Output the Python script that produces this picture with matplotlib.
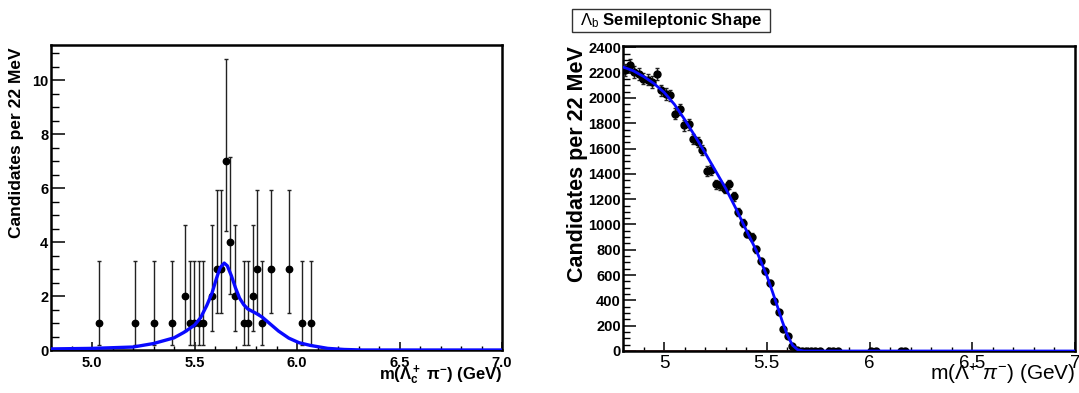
import matplotlib
matplotlib.use("Agg")
import matplotlib.pyplot as plt
from matplotlib.ticker import MultipleLocator, FixedLocator
from matplotlib.patches import Rectangle

plt.rcParams['font.family'] = ['Liberation Sans', 'DejaVu Sans']
plt.rcParams['mathtext.fontset'] = 'custom'
plt.rcParams['mathtext.rm'] = 'Liberation Sans'
plt.rcParams['mathtext.it'] = 'Liberation Sans:italic'
plt.rcParams['mathtext.bf'] = 'Liberation Sans:bold'

# ---------------- Left panel data ----------------
left_x = [5.036, 5.212, 5.300, 5.388, 5.454, 5.476, 5.498, 5.520, 5.542,
          5.586, 5.608, 5.630, 5.652, 5.674, 5.696, 5.740, 5.762, 5.784,
          5.806, 5.828, 5.872, 5.960, 6.026, 6.070]
left_y = [1, 1, 1, 1, 2, 1, 1, 1, 1, 2, 3, 3, 7, 4, 2, 1, 1, 2, 3, 1, 3, 3, 1, 1]
left_lo = [0.17, 0.17, 0.17, 0.17, 0.71, 0.17, 0.17, 0.17, 0.17, 0.71, 1.37, 1.37,
           4.42, 2.09, 0.71, 0.17, 0.17, 0.71, 1.37, 0.17, 1.37, 1.37, 0.17, 0.17]
left_hi = [3.30, 3.30, 3.30, 3.30, 4.64, 3.30, 3.30, 3.30, 3.30, 4.64, 5.92, 5.92,
           10.77, 7.16, 4.64, 3.30, 3.30, 4.64, 5.92, 3.30, 5.92, 5.92, 3.30, 3.30]

left_fit_x = [4.80, 5.00, 5.20, 5.30, 5.40, 5.45, 5.50, 5.53, 5.56, 5.585, 5.607,
              5.625, 5.645, 5.66, 5.68, 5.70, 5.72, 5.74, 5.76, 5.80, 5.83, 5.87,
              5.91, 5.96, 6.01, 6.065, 6.15, 6.23, 6.32, 7.00]
left_fit_y = [0.04, 0.06, 0.11, 0.24, 0.45, 0.66, 0.92, 1.20, 1.65, 2.10, 2.65,
              3.05, 3.22, 3.12, 2.75, 2.30, 1.92, 1.68, 1.52, 1.36, 1.22, 0.96,
              0.70, 0.44, 0.27, 0.17, 0.06, 0.02, 0.00, 0.00]

left_xticks = [5.0, 5.5, 6.0, 6.5, 7.0]
left_xticklabels = ["5.0", "5.5", "6.0", "6.5", "7.0"]
left_yticks = [0, 2, 4, 6, 8, 10]

# ---------------- Right panel data ----------------
right_x = [4.811, 4.833, 4.855, 4.877, 4.899, 4.921, 4.943, 4.965, 4.987, 5.009,
           5.031, 5.053, 5.075, 5.097, 5.119, 5.141, 5.163, 5.185, 5.207, 5.229,
           5.251, 5.273, 5.295, 5.317, 5.339, 5.361, 5.383, 5.405, 5.427, 5.449,
           5.471, 5.493, 5.515, 5.537, 5.559, 5.581, 5.603, 5.625, 5.647, 5.669,
           5.691, 5.713, 5.735, 5.757, 5.801, 5.823, 5.845, 6.009, 6.031, 6.153,
           6.175]
right_y = [2224, 2258, 2205, 2192, 2153, 2145, 2127, 2192, 2060, 2033,
           2020, 1876, 1910, 1784, 1792, 1674, 1653, 1587, 1421, 1429,
           1318, 1310, 1283, 1318, 1224, 1100, 1012, 928, 902, 804,
           712, 630, 538, 395, 308, 176, 118, 37, 11, 3,
           2, 2, 2, 2, 1, 1, 1, 1, 1, 1,
           1]
right_err = [47, 48, 47, 47, 46, 46, 46, 47, 45, 45,
             45, 43, 44, 42, 42, 41, 41, 40, 38, 38,
             36, 36, 36, 36, 35, 33, 32, 30, 30, 28,
             27, 25, 23, 20, 18, 13, 11, 6, 3, 2,
             1, 1, 1, 1, 1, 1, 1, 1, 1, 1,
             1]

right_fit_x = [4.80, 4.85, 4.90, 4.95, 5.00, 5.05, 5.10, 5.15, 5.20, 5.25,
               5.30, 5.35, 5.40, 5.45, 5.50, 5.525, 5.55, 5.575, 5.60, 5.625,
               5.65, 5.68, 7.00]
right_fit_y = [2245, 2215, 2170, 2115, 2045, 1950, 1830, 1700, 1565, 1425,
               1285, 1125, 955, 790, 595, 480, 360, 235, 125, 45,
               10, 0, 0]
right_bkg_x = [4.80, 7.00]
right_bkg_y = [0, 0]

right_xticks = [5.0, 5.5, 6.0, 6.5, 7.0]
right_xticklabels = ["5", "5.5", "6", "6.5", "7"]
right_yticks = [0, 200, 400, 600, 800, 1000, 1200, 1400, 1600, 1800, 2000, 2200, 2400]

W, H = 1079, 393
fig = plt.figure(figsize=(W / 100, H / 100), dpi=100)

def frac_axes(x0, y0, x1, y1):
    return fig.add_axes([x0 / W, 1 - y1 / H, (x1 - x0) / W, (y1 - y0) / H])

# ---------------- Left ----------------
ax1 = frac_axes(51, 45, 502, 350)
ax1.errorbar(left_x, left_y,
             yerr=[[y - lo for y, lo in zip(left_y, left_lo)],
                   [hi - y for y, hi in zip(left_y, left_hi)]],
             fmt='o', color='black', ecolor='#222222', elinewidth=1.0,
             capsize=1.6, capthick=1.0, markersize=4.6, zorder=3)
ax1.plot(left_fit_x, left_fit_y, color='#0a0aff', lw=2.4, zorder=4)
ax1.set_xlim(4.8, 7.0)
ax1.set_ylim(0, 11.3)
ax1.xaxis.set_major_locator(FixedLocator(left_xticks))
ax1.set_xticklabels(left_xticklabels, fontweight='bold', fontsize=10.5)
ax1.xaxis.set_minor_locator(MultipleLocator(0.1))
ax1.yaxis.set_major_locator(FixedLocator(left_yticks))
ax1.yaxis.set_minor_locator(MultipleLocator(0.5))
for lab in ax1.get_yticklabels():
    lab.set_fontweight('bold')
    lab.set_fontsize(10.5)
ax1.tick_params(axis='x', which='major', direction='in', length=6, width=1.1, pad=4)
ax1.tick_params(axis='x', which='minor', direction='in', length=3.2, width=1.0)
ax1.tick_params(axis='y', which='major', direction='in', length=10, width=1.1, pad=2)
ax1.tick_params(axis='y', which='minor', direction='in', length=5.5, width=1.0)
ax1.tick_params(top=False, right=False, which='both')
for s in ax1.spines.values():
    s.set_linewidth(1.8)
fig.text(502 / W, 1 - 375 / H, r'm($\mathbf{\Lambda_c^+}\ \mathbf{\pi^{-}}$) (GeV)',
         ha='right', va='center', fontsize=12, fontweight='bold')
fig.text(17 / W, 1 - 47 / H, 'Candidates per 22 MeV', rotation=90,
         ha='center', va='top', fontsize=12.5, fontweight='bold')

# ---------------- Right ----------------
ax2 = frac_axes(623, 46, 1075, 351)
ax2.plot(right_bkg_x, right_bkg_y, color='#a04a4a', lw=1.2, zorder=2)
ax2.errorbar(right_x, right_y, yerr=right_err,
             fmt='o', color='black', ecolor='#222222', elinewidth=1.0,
             capsize=1.6, capthick=1.0, markersize=5.0, zorder=3)
ax2.plot(right_fit_x, right_fit_y, color='#0a0aff', lw=2.0, zorder=4)
ax2.set_xlim(4.8, 7.0)
ax2.set_ylim(0, 2411)
ax2.xaxis.set_major_locator(FixedLocator(right_xticks))
ax2.set_xticklabels(right_xticklabels, fontsize=13.5)
ax2.xaxis.set_minor_locator(MultipleLocator(0.1))
ax2.yaxis.set_major_locator(FixedLocator(right_yticks))
ax2.yaxis.set_minor_locator(MultipleLocator(50))
for lab in ax2.get_yticklabels():
    lab.set_fontweight('bold')
    lab.set_fontsize(10.5)
ax2.tick_params(axis='x', which='major', direction='in', length=6.5, width=1.1, pad=3)
ax2.tick_params(axis='x', which='minor', direction='in', length=3.2, width=1.0)
ax2.tick_params(axis='y', which='major', direction='in', length=9.5, width=1.1, pad=1.5)
ax2.tick_params(axis='y', which='minor', direction='in', length=5, width=1.0)
ax2.tick_params(top=False, right=False, which='both')
for s in ax2.spines.values():
    s.set_linewidth(1.8)
fig.text(1075 / W, 1 - 374 / H, r'm($\Lambda^{+}\;\pi^{-}$) (GeV)',
         ha='right', va='center', fontsize=15)
fig.text(577 / W, 1 - 46 / H, 'Candidates per 22 MeV', rotation=90,
         ha='center', va='top', fontsize=15.5, fontweight='bold')

# Title box
fig.patches.append(Rectangle((572 / W, 1 - 32 / H), (770 - 572) / W, (32 - 9) / H,
                             transform=fig.transFigure, facecolor='white',
                             edgecolor='#333333', lw=1.0))
fig.text(671 / W, 1 - 20.5 / H, r'$\Lambda_\mathrm{b}$ Semileptonic Shape',
         ha='center', va='center', fontsize=12, fontweight='bold')

fig.savefig('out.png', dpi=100)
